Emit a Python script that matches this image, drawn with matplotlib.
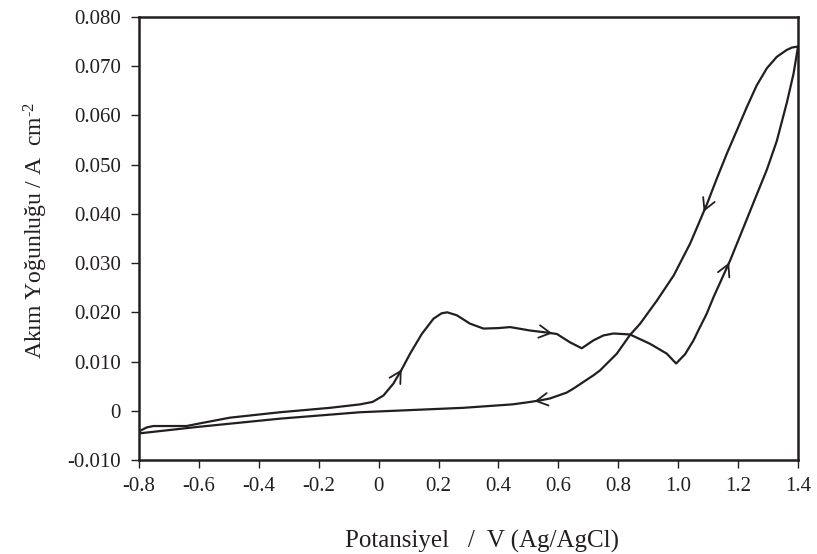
import numpy as np
import matplotlib
matplotlib.use("Agg")
import matplotlib.pyplot as plt

plt.rcParams['font.family'] = ['Liberation Serif', 'DejaVu Serif']
plt.rcParams['mathtext.fontset'] = 'custom'
plt.rcParams['mathtext.rm'] = 'Liberation Serif'
plt.rcParams['mathtext.it'] = 'Liberation Serif:italic'

# forward (anodic) scan
fwd_v = [-0.800, -0.775, -0.752, -0.641, -0.600, -0.496, -0.329, -0.162, -0.062,
         -0.020, 0.016, 0.049, 0.077, 0.105, 0.144, 0.183, 0.210, 0.229, 0.261,
         0.305, 0.350, 0.400, 0.439, 0.506, 0.560, 0.595, 0.639, 0.678, 0.717,
         0.750, 0.784, 0.839, 0.906, 0.962, 0.993, 1.023, 1.051, 1.067, 1.095,
         1.118, 1.173, 1.207, 1.256, 1.296, 1.329, 1.363, 1.385, 1.400]
fwd_i = [-0.0042, -0.0034, -0.0031, -0.0031, -0.0026, -0.0014, -0.0003, 0.0006, 0.0013,
         0.0018, 0.0031, 0.0055, 0.0084, 0.0116, 0.0156, 0.0187, 0.0198, 0.0200, 0.0194,
         0.0177, 0.0167, 0.0168, 0.0170, 0.0163, 0.0159, 0.0156, 0.0139, 0.0127, 0.0143,
         0.0153, 0.0157, 0.0155, 0.0136, 0.0116, 0.0096, 0.0115, 0.0143, 0.0163, 0.0197,
         0.0231, 0.0305, 0.0356, 0.0430, 0.0490, 0.0548, 0.0627, 0.0685, 0.0740]

# reverse (cathodic) scan
rev_v = [1.400, 1.380, 1.362, 1.329, 1.296, 1.262, 1.229, 1.196, 1.162, 1.129,
         1.096, 1.040, 0.985, 0.929, 0.873, 0.839, 0.795, 0.739, 0.717,
         0.650, 0.628, 0.572, 0.539, 0.495, 0.447, 0.283, -0.062, -0.329, -0.607,
         -0.800]
rev_i = [0.0740, 0.0738, 0.0733, 0.0719, 0.0696, 0.0661, 0.0617, 0.0570, 0.0522, 0.0472,
         0.0420, 0.0340, 0.0275, 0.0224, 0.0177, 0.0154, 0.0116, 0.0082, 0.0072,
         0.0045, 0.0037, 0.0025, 0.0021, 0.0017, 0.0013, 0.0006, -0.0003, -0.0016, -0.0033,
         -0.0046]

# scan direction arrows: potential where the arrow sits
fwd_arrows = [0.077, 0.58, 1.17]
rev_arrows = [1.085, 0.52]

xticks = [-0.8, -0.6, -0.4, -0.2, 0, 0.2, 0.4, 0.6, 0.8, 1.0, 1.2, 1.4]
xlabels = ['-0.8', '-0.6', '-0.4', '-0.2', '0', '0.2', '0.4', '0.6', '0.8', '1.0', '1.2', '1.4']
yticks = [-0.010, 0, 0.010, 0.020, 0.030, 0.040, 0.050, 0.060, 0.070, 0.080]
ylabels = ['-0.010', '0', '0.010', '0.020', '0.030', '0.040', '0.050', '0.060', '0.070', '0.080']

fig = plt.figure(figsize=(8.17, 5.54), dpi=100)
ax = fig.add_axes([0.1701, 0.1697, 0.8067, 0.7996])

col = '#231f20'
ax.plot(fwd_v, fwd_i, color=col, lw=1.6, solid_joinstyle='round')
ax.plot(rev_v, rev_i, color=col, lw=1.6, solid_joinstyle='round')

def arrow(v, xs, ys, step):
    # xs must be increasing for np.interp
    order = np.argsort(xs)
    xs = np.asarray(xs)[order]
    ys = np.asarray(ys)[order]
    y1 = np.interp(v, xs, ys)
    y0 = np.interp(v - step, xs, ys)
    ax.annotate('', xy=(v, y1), xytext=(v - step, y0),
                arrowprops=dict(arrowstyle='->,head_length=0.55,head_width=0.3',
                                color=col, lw=1.3, shrinkA=0, shrinkB=0,
                                mutation_scale=15))

for v in fwd_arrows:
    arrow(v, fwd_v, fwd_i, 0.004)
for v in rev_arrows:
    arrow(v, rev_v, rev_i, -0.004)

ax.set_xlim(-0.8, 1.4)
ax.set_ylim(-0.010, 0.080)
ax.set_xticks(xticks)
ax.set_xticklabels(xlabels)
ax.set_yticks(yticks)
ax.set_yticklabels(ylabels)
ax.tick_params(direction='out', length=6, width=1, colors=col, labelsize=15)
ax.tick_params(axis='x', pad=6)
ax.tick_params(axis='y', pad=7)
for s in ax.spines.values():
    s.set_linewidth(1.8)
    s.set_color(col)

fig.text(0.59, 0.023, 'Potansiyel   /  V (Ag/AgCl)', fontsize=18, color=col,
         ha='center', va='center')
fig.text(0.044, 0.585, r'Akım Yoğunluğu / A  cm$^{\text{-2}}$', fontsize=17, color=col,
         rotation=90, ha='center', va='center')

fig.savefig('out.png', dpi=100)
